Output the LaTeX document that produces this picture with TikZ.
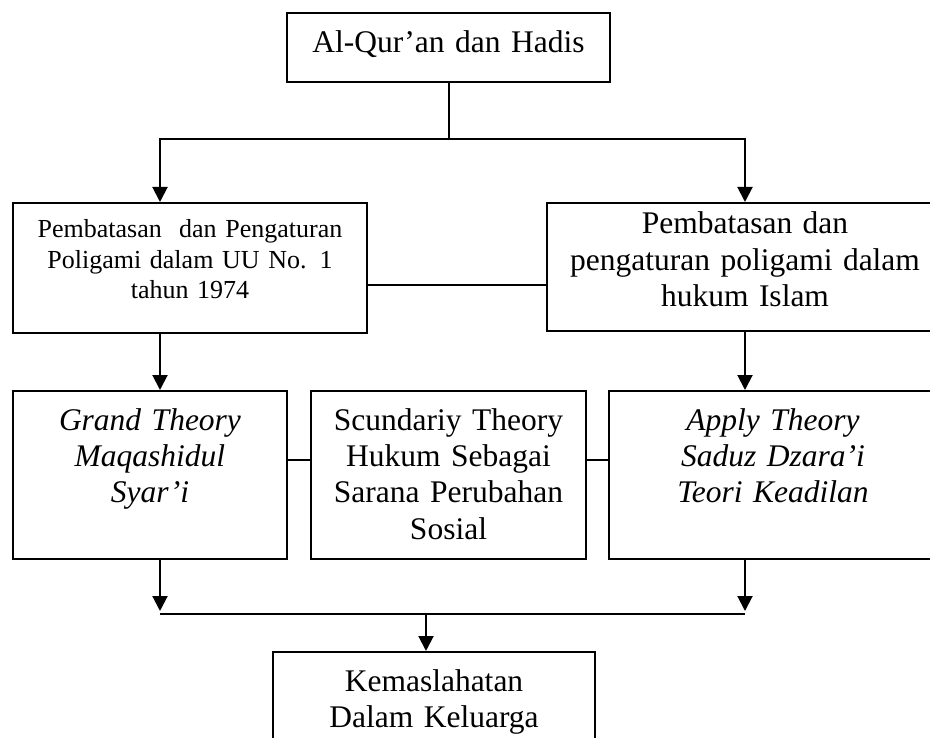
\documentclass[tikz,border=0pt]{standalone}
\usepackage{fontspec}
\setmainfont{Liberation Serif}
\usetikzlibrary{arrows.meta}

\begin{document}
\begin{tikzpicture}[x=1pt, y=-1pt, line width=2pt,
  every node/.style={draw, rectangle, inner sep=0pt, anchor=north, align=center, font=\fontsize{31.5}{36.5}\selectfont},
  arr/.style={-{Triangle[width=15pt,length=15pt]}}]
\useasboundingbox (0,0) rectangle (930,738);
\begin{scope}
\clip (0,0) rectangle (930,738);
\node[text width=323pt, text height=40pt, text depth=29pt] (quran) at (448.5,12) {Al-Qur'an dan Hadis};
\node[text width=354pt, text height=35pt, text depth=95pt, font=\fontsize{26}{30.5}\selectfont] (uu) at (190,202) {Pembatasan \ dan Pengaturan\\ Poligami dalam UU No. 1\\ tahun 1974};
\node[text width=396pt, text height=31pt, text depth=97pt] (islam) at (745,202) {Pembatasan dan\\ pengaturan poligami dalam\\ hukum Islam};
\node[text width=274pt, text height=39pt, text depth=129pt] (grand) at (150,390) {\itshape Grand Theory\\ \itshape Maqashidul\\ \itshape Syar'i};
\node[text width=275pt, text height=39pt, text depth=129pt] (scund) at (448.5,390) {Scundariy Theory\\ Hukum Sebagai\\ Sarana Perubahan\\ Sosial};
\node[text width=328pt, text height=39pt, text depth=129pt] (apply) at (773,390) {\itshape Apply Theory\\ \itshape Saduz Dzara'i\\ \itshape Teori Keadilan};
\node[text width=322pt, text height=39pt, text depth=80pt] (kemas) at (434,651) {Kemaslahatan\\ Dalam Keluarga};
\end{scope}

\coordinate (ql) at (160,139);
\coordinate (qr) at (745,139);
\coordinate (bl) at (160,614);
\coordinate (br) at (745,614);
\coordinate (km) at (426,614);

% from the sources
\draw[arr] (quran.south) |- (ql) -- (ql |- uu.north);
\draw[arr] (quran.south |- qr) -- (qr) -- (qr |- islam.north);
\draw ([yshift=-17pt]uu.east) -- ([yshift=-17pt]uu.east -| islam.west);

% theories
\draw[arr] (ql |- uu.south) -- (ql |- grand.north);
\draw[arr] (qr |- islam.south) -- (qr |- apply.north);
\draw ([yshift=15pt]grand.east) -- ([yshift=15pt]scund.west);
\draw ([yshift=15pt]scund.east) -- ([yshift=15pt]apply.west);

% result
\draw[arr] (bl |- grand.south) -- ([yshift=3pt]bl);
\draw[arr] (br |- apply.south) -- ([yshift=3pt]br);
\draw (bl) -- (br);
\draw[arr] (km) -- (km |- kemas.north);
\end{tikzpicture}
\end{document}
